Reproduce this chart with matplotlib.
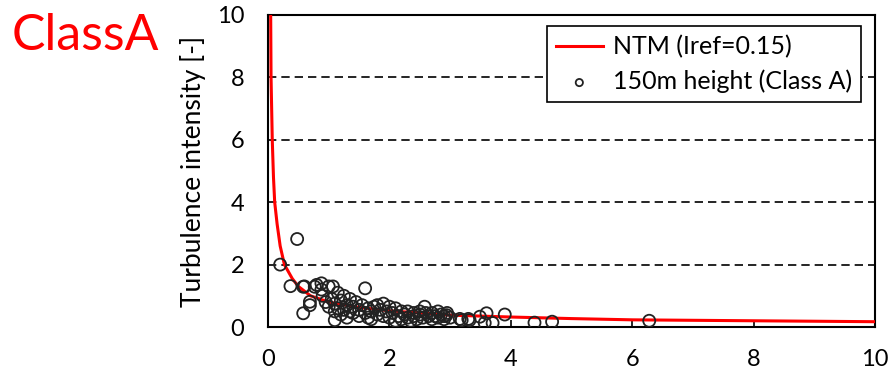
import numpy as np
import matplotlib.pyplot as plt

plt.rcParams['font.family'] = ['Lato', 'DejaVu Sans']

# NTM curve (Iref=0.15)
ntm_x = [0.044, 0.05, 0.07, 0.09, 0.11, 0.15, 0.2, 0.27, 0.4, 0.5, 0.7, 1.0,
         1.5, 2.0, 3.0, 4.0, 5.0, 6.0, 8.0, 10.0]
ntm_y = [10.0, 8.0, 6.0, 4.8, 4.0, 3.3, 2.6, 2.0, 1.55, 1.3, 1.0, 0.8,
         0.63, 0.52, 0.38, 0.32, 0.27, 0.23, 0.2, 0.17]

# 150m height measurements (Class A)
obs_x = [0.2, 0.48, 0.37, 0.58, 0.77, 0.88, 0.88, 0.69, 0.69, 0.58, 1.6, 1.1,
         1.07, 0.8, 0.6,
         0.9, 0.95, 1.0, 1.0, 1.05, 1.1, 1.1, 1.15, 1.15, 1.2, 1.2, 1.25, 1.25,
         1.3, 1.3, 1.35, 1.35, 1.4, 1.4, 1.45, 1.5, 1.5, 1.55, 1.6, 1.65, 1.65,
         1.7, 1.7, 1.75, 1.8, 1.8, 1.85, 1.9, 1.9, 1.95, 2.0, 2.0, 2.05, 2.1,
         2.1, 2.15, 2.2, 2.2, 2.25, 2.3, 2.3, 2.35, 2.4, 2.4, 2.45, 2.5, 2.5,
         2.55, 2.6, 2.58, 2.65, 2.7, 2.7, 2.75, 2.8, 2.8, 2.85, 2.9, 2.9, 2.95,
         2.94, 3.0,
         3.16, 3.19, 3.3, 3.32, 3.49, 3.6, 3.57, 3.7, 3.9, 4.39, 4.68, 6.28]
obs_y = [2.0, 2.82, 1.31, 1.29, 1.29, 1.4, 1.2, 0.81, 0.7, 0.44, 1.24, 0.22,
         1.3, 1.35, 1.3,
         1.0, 0.8, 0.65, 1.3, 0.9, 0.75, 0.5, 1.1, 0.6, 0.85, 0.4, 1.0, 0.55,
         0.7, 0.3, 0.9, 0.5, 0.65, 0.45, 0.8, 0.55, 0.35, 0.7, 0.45, 0.6, 0.3,
         0.5, 0.25, 0.65, 0.4, 0.7, 0.55, 0.35, 0.75, 0.5, 0.3, 0.65, 0.45, 0.2,
         0.6, 0.35, 0.5, 0.25, 0.4, 0.3, 0.5, 0.2, 0.45, 0.35, 0.25, 0.4, 0.5,
         0.3, 0.45, 0.65, 0.35, 0.25, 0.45, 0.35, 0.3, 0.5, 0.4, 0.25, 0.35, 0.45,
         0.38, 0.3,
         0.26, 0.22, 0.26, 0.22, 0.33, 0.44, 0.13, 0.13, 0.4, 0.14, 0.17, 0.2]

fig = plt.figure(figsize=(8.91, 3.73), dpi=100)
ax = fig.add_axes([0.3008, 0.1233, 0.6813, 0.8365])

ax.plot(ntm_x, ntm_y, color='red', lw=2.2, label='NTM (Iref=0.15)', zorder=3)
ax.scatter(obs_x, obs_y, s=75, facecolors='none', edgecolors='#222222',
           linewidths=1.3, label='150m height (Class A)', zorder=4)

ax.set_xlim(0, 10)
ax.set_ylim(0, 10)
ax.set_xticks([0, 2, 4, 6, 8, 10])
ax.set_yticks([0, 2, 4, 6, 8, 10])
ax.tick_params(axis='x', direction='in', length=5, width=1.2, pad=16,
               labelsize=17)
ax.tick_params(axis='y', length=0, pad=17, labelsize=17)
for y in [2, 4, 6, 8]:
    ax.axhline(y, color='black', lw=1.2, ls=(0, (5, 3)), zorder=1)
for s in ax.spines.values():
    s.set_linewidth(1.5)
    s.set_color('black')

ax.set_ylabel('Turbulence intensity [-]', fontsize=19, labelpad=8)

leg = ax.legend(loc='upper right', bbox_to_anchor=(0.985, 0.98), fontsize=18,
                frameon=True, fancybox=False, edgecolor='black',
                framealpha=1, handlelength=1.9, handletextpad=0.4,
                borderpad=0.35, labelspacing=0.45, markerscale=0.6,
                borderaxespad=0.2)
leg.get_frame().set_linewidth(1.2)

fig.text(0.013, 0.903, 'ClassA', color='red', fontsize=36, va='center',
         ha='left')

fig.savefig('out.png', dpi=100)
